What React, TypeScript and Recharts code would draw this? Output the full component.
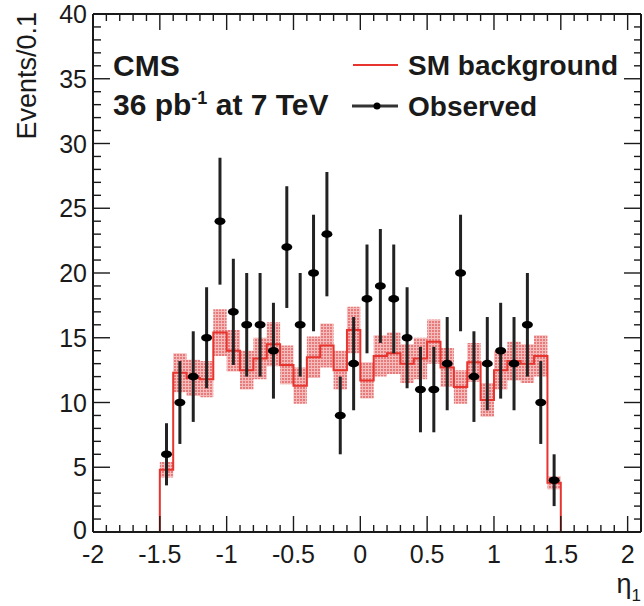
import { ComposedChart, Line, Area, Scatter, ErrorBar, XAxis, YAxis } from 'recharts'

// bin edges of the eta histogram (width 0.1)
const binEdges = [
  -1.5, -1.4, -1.3, -1.2, -1.1, -1.0, -0.9, -0.8, -0.7, -0.6, -0.5,
  -0.4, -0.3, -0.2, -0.1, 0.0, 0.1, 0.2, 0.3, 0.4, 0.5,
  0.6, 0.7, 0.8, 0.9, 1.0, 1.1, 1.2, 1.3, 1.4, 1.5
]

// SM background per bin and its uncertainty (shaded band)
const smBackground = [
  4.8, 12.3, 11.9, 11.8, 15.4, 14.0, 12.5, 13.4, 14.5, 12.9,
  11.3, 13.5, 14.4, 12.5, 15.6, 11.7, 13.6, 13.8, 13.0, 13.4,
  14.7, 12.7, 11.2, 13.1, 10.2, 12.5, 13.2, 13.0, 13.6, 3.8
]
const smError = [
  0.6, 1.5, 1.4, 1.4, 1.8, 1.6, 1.5, 1.6, 1.7, 1.5,
  1.4, 1.6, 1.7, 1.5, 1.8, 1.4, 1.6, 1.6, 1.5, 1.6,
  1.7, 1.5, 1.3, 1.5, 1.3, 1.5, 1.5, 1.5, 1.6, 0.5
]

// observed events per bin and their errors
const observed = [
  6, 10, 12, 15, 24, 17, 16, 16, 14, 22,
  16, 20, 23, 9, 13, 18, 19, 18, 15, 11,
  11, 13, 20, 12, 13, 14, 13, 16, 10, 4
]
const observedError = [
  2.4, 3.2, 3.5, 3.9, 4.9, 4.1, 4.0, 4.0, 3.7, 4.7,
  4.0, 4.5, 4.8, 3.0, 3.6, 4.2, 4.4, 4.2, 3.9, 3.3,
  3.3, 3.6, 4.5, 3.5, 3.6, 3.7, 3.6, 4.0, 3.2, 2.0
]

const xMajorTicks = [-2, -1.5, -1, -0.5, 0, 0.5, 1, 1.5, 2]
const xTickLabels = ['-2', '-1.5', '-1', '-0.5', '0', '0.5', '1', '1.5', '2']
const yMajorTicks = [0, 5, 10, 15, 20, 25, 30, 35, 40]
const yTickLabels = ['0', '5', '10', '15', '20', '25', '30', '35', '40']

const RED = '#e8342e'
const INK = '#1a1a1a'
const FONT = '"Liberation Sans", Arial, Helvetica, sans-serif'

const xTicks: number[] = []
for (let i = -20; i <= 20; i++) xTicks.push(i / 10)
const yTicks: number[] = []
for (let i = 0; i <= 40; i++) yTicks.push(i)

const lineData = [
  { x: -2, y: 0 },
  ...smBackground.map((v, i) => ({ x: binEdges[i], y: v })),
  { x: 1.5, y: 0 },
  { x: 2.1, y: 0 }
]

const bandData = binEdges.map((e, i) => {
  const k = Math.min(i, smBackground.length - 1)
  return { x: e, band: [smBackground[k] - smError[k], smBackground[k] + smError[k]] }
})

const obsData = observed.map((v, i) => ({
  x: (binEdges[i] + binEdges[i + 1]) / 2,
  y: v,
  err: observedError[i]
}))

const majorIndex = (list: number[], v: number) =>
  list.findIndex((m) => Math.abs(m - v) < 1e-6)

const BottomTick = (props: any) => {
  const { x, y, payload } = props
  const idx = majorIndex(xMajorTicks, payload.value)
  return (
    <g>
      <line x1={x} x2={x} y1={y} y2={y - (idx >= 0 ? 16 : 7)} stroke={INK} strokeWidth={1.4} />
      {idx >= 0 && (
        <text x={x} y={y + 31} textAnchor="middle" fontSize={25} fontFamily={FONT} fill={INK}>
          {xTickLabels[idx]}
        </text>
      )}
    </g>
  )
}

const TopTick = (props: any) => {
  const { x, y, payload } = props
  const idx = majorIndex(xMajorTicks, payload.value)
  return <line x1={x} x2={x} y1={y} y2={y + (idx >= 0 ? 16 : 7)} stroke={INK} strokeWidth={1.4} />
}

const LeftTick = (props: any) => {
  const { x, y, payload } = props
  const idx = majorIndex(yMajorTicks, payload.value)
  return (
    <g>
      <line x1={x} x2={x + (idx >= 0 ? 17 : 8)} y1={y} y2={y} stroke={INK} strokeWidth={1.4} />
      {idx >= 0 && (
        <text
          x={x - 6}
          y={idx === 0 ? y - 2 : y}
          dy="0.36em"
          textAnchor="end"
          fontSize={25}
          fontFamily={FONT}
          fill={INK}
        >
          {yTickLabels[idx]}
        </text>
      )}
    </g>
  )
}

const RightTick = (props: any) => {
  const { x, y, payload } = props
  const idx = majorIndex(yMajorTicks, payload.value)
  return <line x1={x} x2={x - (idx >= 0 ? 17 : 7)} y1={y} y2={y} stroke={INK} strokeWidth={1.4} />
}

const Marker = (props: any) => (
  <ellipse cx={props.cx} cy={props.cy} rx={5.5} ry={3.8} fill="#000" />
)

export default function App() {
  return (
    <div style={{ position: 'absolute', left: 0, top: 0, width: 644, height: 606, background: '#fff' }}>
      <ComposedChart width={644} height={606} margin={{ top: 13, right: 2, bottom: 73, left: 92 }}>
        <defs>
          <pattern id="stipple" width="3" height="3" patternUnits="userSpaceOnUse">
            <rect width="3" height="3" fill="#f6bcbc" />
            <rect width="2" height="2" fill="#e77a7a" />
          </pattern>
        </defs>
        <XAxis
          type="number"
          dataKey="x"
          domain={[-2, 2.1]}
          allowDataOverflow
          ticks={xTicks}
          interval={0}
          height={1}
          tickSize={0}
          tickMargin={0}
          tickLine={false}
          tick={BottomTick}
          axisLine={{ stroke: INK, strokeWidth: 2 }}
        />
        <XAxis
          xAxisId="top"
          orientation="top"
          type="number"
          dataKey="x"
          domain={[-2, 2.1]}
          allowDataOverflow
          ticks={xTicks}
          interval={0}
          height={1}
          tickSize={0}
          tickMargin={0}
          tickLine={false}
          tick={TopTick}
          axisLine={{ stroke: INK, strokeWidth: 2 }}
        />
        <YAxis
          type="number"
          domain={[0, 40]}
          allowDataOverflow
          ticks={yTicks}
          interval={0}
          width={1}
          tickSize={0}
          tickMargin={0}
          tickLine={false}
          tick={LeftTick}
          axisLine={{ stroke: INK, strokeWidth: 2 }}
        />
        <YAxis
          yAxisId="right"
          orientation="right"
          type="number"
          domain={[0, 40]}
          allowDataOverflow
          ticks={yTicks}
          interval={0}
          width={1}
          tickSize={0}
          tickMargin={0}
          tickLine={false}
          tick={RightTick}
          axisLine={{ stroke: INK, strokeWidth: 2 }}
        />
        <Area
          data={bandData}
          dataKey="band"
          type="stepAfter"
          stroke="none"
          fill="url(#stipple)"
          fillOpacity={1}
          isAnimationActive={false}
        />
        <Line
          data={lineData}
          dataKey="y"
          type="stepAfter"
          stroke={RED}
          strokeWidth={2}
          dot={false}
          isAnimationActive={false}
        />
        <Scatter data={obsData} dataKey="y" shape={Marker} isAnimationActive={false}>
          <ErrorBar dataKey="err" direction="y" width={0} stroke="#222" strokeWidth={3} />
        </Scatter>

        <text x={113} y={76} fontSize={30} fontWeight="bold" fontFamily={FONT} fill={INK}>
          CMS
        </text>
        <text x={113} y={115} fontSize={30} fontWeight="bold" fontFamily={FONT} fill={INK}>
          36 pb
          <tspan dy={-11} fontSize={18}>-1</tspan>
          <tspan dy={11}> at 7 TeV</tspan>
        </text>

        <line x1={353} x2={398} y1={65} y2={65} stroke={RED} strokeWidth={2} />
        <text x={408} y={75} fontSize={28} fontWeight="bold" fontFamily={FONT} fill={INK}>
          SM background
        </text>
        <line x1={352} x2={398} y1={106} y2={106} stroke="#333" strokeWidth={3} />
        <circle cx={377} cy={106} r={3.5} fill="#000" />
        <text x={408} y={116} fontSize={28} fontWeight="bold" fontFamily={FONT} fill={INK}>
          Observed
        </text>

        <text
          transform="translate(36, 12) rotate(-90)"
          textAnchor="end"
          fontSize={27}
          fontFamily={FONT}
          fill={INK}
        >
          Events/0.1
        </text>
        <text x={641} y={593} textAnchor="end" fontSize={27} fontFamily={FONT} fill={INK}>
          η<tspan dy={8} fontSize={17}>1</tspan>
        </text>
      </ComposedChart>
    </div>
  )
}
